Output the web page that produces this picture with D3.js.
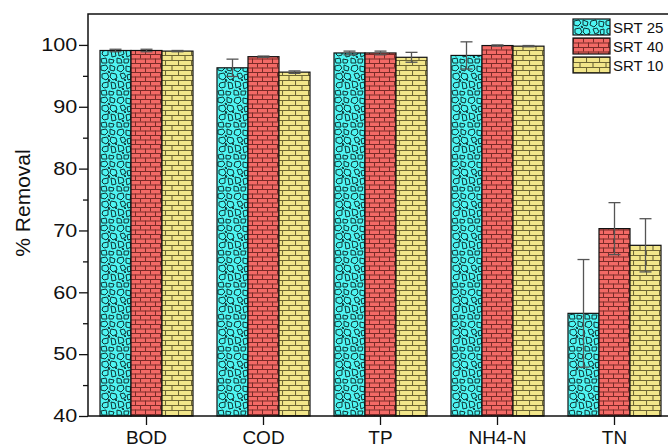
<!DOCTYPE html>
<html>
<head>
<meta charset="utf-8">
<script src="https://cdn.jsdelivr.net/npm/d3@7"></script>
<style>
  html, body { margin: 0; padding: 0; background: #fff; }
  svg { display: block; font-family: Arial, "Liberation Sans", sans-serif; }
</style>
</head>
<body>
<svg id="chart" width="668" height="448"></svg>
<script>
// Removal efficiency per parameter, for three sludge retention times
const categories = ["BOD", "COD", "TP", "NH4-N", "TN"];
const seriesNames = ["SRT 25", "SRT 40", "SRT 10"];
const srt25 = [99.1, 96.3, 98.7, 98.3, 56.6];
const srt25Err = [0.2, 1.4, 0.3, 2.2, 8.7];
const srt40 = [99.1, 98.1, 98.7, 99.9, 70.3];
const srt40Err = [0.2, 0.1, 0.3, 0.1, 4.2];
const srt10 = [99.0, 95.6, 98.0, 99.8, 67.6];
const srt10Err = [0.1, 0.2, 0.8, 0.1, 4.3];
const yTicks = [40, 50, 60, 70, 80, 90, 100];

const values = [srt25, srt40, srt10];
const errors = [srt25Err, srt40Err, srt10Err];
const fills = ["url(#pebble)", "url(#brickRed)", "url(#brickYellow)"];

const svg = d3.select("#chart");
const plot = { left: 88, right: 673, top: 14, bottom: 416 };

const y = d3.scaleLinear().domain([40, 105]).range([plot.bottom, plot.top]);
const x = d3.scaleBand().domain(categories)
  .range([plot.left, plot.right])
  .paddingInner(24 / 117).paddingOuter(12 / 117);
const xs = d3.scaleBand().domain(seriesNames).range([0, x.bandwidth()]);

// ---- fill patterns ----
const defs = svg.append("defs");

// pebble texture on cyan
const peb = defs.append("pattern").attr("id", "pebble")
  .attr("patternUnits", "userSpaceOnUse").attr("width", 32).attr("height", 32);
peb.append("rect").attr("width", 32).attr("height", 32).attr("fill", "#4ff5f2");
const pebbles = [
  "M1,2 L6,1 L8,4 L5,7 L1,6 Z",
  "M10,1 L15,3 L14,7 L10,6 Z",
  "M18,2 L23,1 L24,5 L21,8 L17,6 Z",
  "M26,2 L31,3 L30,8 L26,7 Z",
  "M2,10 L7,9 L9,13 L6,16 L2,14 Z",
  "M11,9 L16,10 L17,14 L13,16 L10,13 Z",
  "M20,10 L24,9 L26,13 L22,15 Z",
  "M27,11 L31,10 L31,15 L28,16 Z",
  "M3,19 L8,18 L8,23 L4,24 L2,22 Z",
  "M11,18 L15,19 L16,24 L12,25 Z",
  "M18,17 L23,18 L24,22 L19,24 Z",
  "M26,19 L30,18 L31,23 L27,25 Z",
  "M1,27 L6,26 L7,31 L2,31 Z",
  "M9,27 L14,28 L13,31 L9,31 Z",
  "M17,26 L21,27 L22,31 L17,31 Z",
  "M24,27 L29,27 L28,31 L24,31 Z",
  "M8,7 L10,8 L9,9 Z",
  "M24,15 L26,16 L25,17 Z",
  "M15,15 L17,16 L16,17 Z",
  "M8,15 L10,16 L9,18 Z",
  "M22,24 L24,25 L23,26 Z"
];
peb.selectAll("path").data(pebbles).join("path")
  .attr("d", d => d).attr("fill", "none")
  .attr("stroke", "#0f3333").attr("stroke-width", 1)
  .attr("stroke-linejoin", "round");

// brick textures
function brick(id, w, h, bg, line, lw) {
  const p = defs.append("pattern").attr("id", id)
    .attr("patternUnits", "userSpaceOnUse").attr("width", w).attr("height", h);
  p.append("rect").attr("width", w).attr("height", h).attr("fill", bg);
  const half = h / 2;
  p.append("path")
    .attr("d", `M0,0.5 H${w} M0,${half + 0.5} H${w} M0.5,0 V${half} M${w / 2 + 0.5},${half} V${h}`)
    .attr("stroke", line).attr("stroke-width", lw).attr("fill", "none");
}
brick("brickRed", 10, 9, "#f36a66", "#7a2b28", 1);
brick("brickYellow", 13, 10, "#f2e68a", "#6e6634", 1.1);

// ---- bars ----
const groups = svg.append("g").selectAll("g").data(categories).join("g")
  .attr("transform", d => `translate(${x(d)},0)`);

seriesNames.forEach((s, si) => {
  groups.append("rect")
    .attr("x", xs(s))
    .attr("y", (d, i) => y(values[si][i]))
    .attr("width", xs.bandwidth())
    .attr("height", (d, i) => y(40) - y(values[si][i]))
    .attr("fill", fills[si])
    .attr("stroke", "#111").attr("stroke-width", 1.2);
});

// error bars
seriesNames.forEach((s, si) => {
  const cx = xs(s) + xs.bandwidth() / 2;
  const eb = groups.append("g").attr("stroke", "#555").attr("stroke-width", 1.3);
  eb.append("line")
    .attr("x1", cx).attr("x2", cx)
    .attr("y1", (d, i) => y(values[si][i] + errors[si][i]))
    .attr("y2", (d, i) => y(values[si][i] - errors[si][i]));
  [1, -1].forEach(sign => {
    eb.append("line")
      .attr("x1", cx - 6).attr("x2", cx + 6)
      .attr("y1", (d, i) => y(values[si][i] + sign * errors[si][i]))
      .attr("y2", (d, i) => y(values[si][i] + sign * errors[si][i]));
  });
});

// ---- axes & frame ----
svg.append("rect")
  .attr("x", plot.left).attr("y", plot.top)
  .attr("width", plot.right - plot.left).attr("height", plot.bottom - plot.top)
  .attr("fill", "none").attr("stroke", "#111").attr("stroke-width", 1.5);

const yAxis = svg.append("g").attr("transform", `translate(${plot.left},0)`)
  .call(d3.axisLeft(y).tickValues(yTicks).tickSize(9).tickPadding(0));
yAxis.select(".domain").remove();
yAxis.selectAll("line").attr("stroke", "#111").attr("stroke-width", 1.3);
yAxis.selectAll("text").attr("font-size", 18).attr("fill", "#111")
  .attr("font-family", "Arial, 'Liberation Sans', sans-serif")
  .attr("transform", "scale(1.2,1)");

const yMinor = svg.append("g").attr("transform", `translate(${plot.left},0)`)
  .call(d3.axisLeft(y).tickValues([45, 55, 65, 75, 85, 95]).tickSize(5).tickFormat(""));
yMinor.select(".domain").remove();
yMinor.selectAll("line").attr("stroke", "#111").attr("stroke-width", 1.3);

const xAxis = svg.append("g").attr("transform", `translate(0,${plot.bottom})`)
  .call(d3.axisBottom(x).tickSize(9).tickPadding(6));
xAxis.select(".domain").remove();
xAxis.selectAll("line").attr("stroke", "#111").attr("stroke-width", 1.3);
xAxis.selectAll("text").attr("font-size", 19).attr("fill", "#111")
  .attr("font-family", "Arial, 'Liberation Sans', sans-serif");

svg.append("text")
  .attr("transform", `translate(30,${(plot.top + plot.bottom) / 2 - 12}) rotate(-90)`)
  .attr("text-anchor", "middle")
  .attr("font-size", 21).attr("fill", "#111")
  .text("% Removal");

// ---- legend ----
const legend = svg.append("g").attr("transform", "translate(573,19)");
seriesNames.forEach((s, si) => {
  const row = legend.append("g").attr("transform", `translate(0,${si * 19})`);
  row.append("rect").attr("width", 37).attr("height", 16)
    .attr("fill", fills[si]).attr("stroke", "#111").attr("stroke-width", 1.2);
  row.append("text").attr("x", 40).attr("y", 14)
    .attr("font-size", 15).attr("fill", "#111").text(s);
});
</script>
</body>
</html>
